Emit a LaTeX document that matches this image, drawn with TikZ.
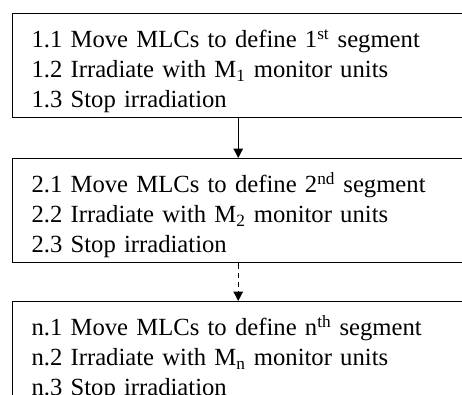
\documentclass[tikz,border=0pt]{standalone}
\usepackage{fontspec}
\setmainfont{Liberation Serif}
\usetikzlibrary{arrows.meta}
\tikzset{
  stepbox/.style={draw, line width=1.1pt, anchor=north west,
    minimum width=338.25pt, minimum height=78pt, inner xsep=12pt,
    text width=310pt, align=left,
    font=\fontsize{18.5}{22.5}\selectfont},
  flow/.style={line width=0.9pt, -{Triangle[width=7pt,length=7pt]}}
}
\newcommand{\topstrut}{\rule{0pt}{22pt}}
\begin{document}
\begin{tikzpicture}[x=0.75pt,y=-0.75pt]
				\useasboundingbox (0,0) rectangle (462,394);
				\clip (0,0) rectangle (462,394);
				\fill[white] (0,0) rectangle (462,394);
				\node[stepbox] (s1) at (12,13) {\topstrut 1.1 Move MLCs to define 1\textsuperscript{st} segment\\
				  1.2 Irradiate with M\textsubscript{1} monitor units\\
				  1.3 Stop irradiation};
				\node[stepbox] (s2) at (12,158) {\topstrut 2.1 Move MLCs to define 2\textsuperscript{nd} segment\\
				  2.2 Irradiate with M\textsubscript{2} monitor units\\
				  2.3 Stop irradiation};
				\node[stepbox] (sn) at (12,301) {\topstrut n.1 Move MLCs to define n\textsuperscript{th} segment\\
				  n.2 Irradiate with M\textsubscript{n} monitor units\\
				  n.3 Stop irradiation};
				\draw[flow] (s1.south) -- (s2.north);
				\draw[flow, dash pattern=on 4pt off 3pt] (s2.south) -- (sn.north);
			\end{tikzpicture}
\end{document}
